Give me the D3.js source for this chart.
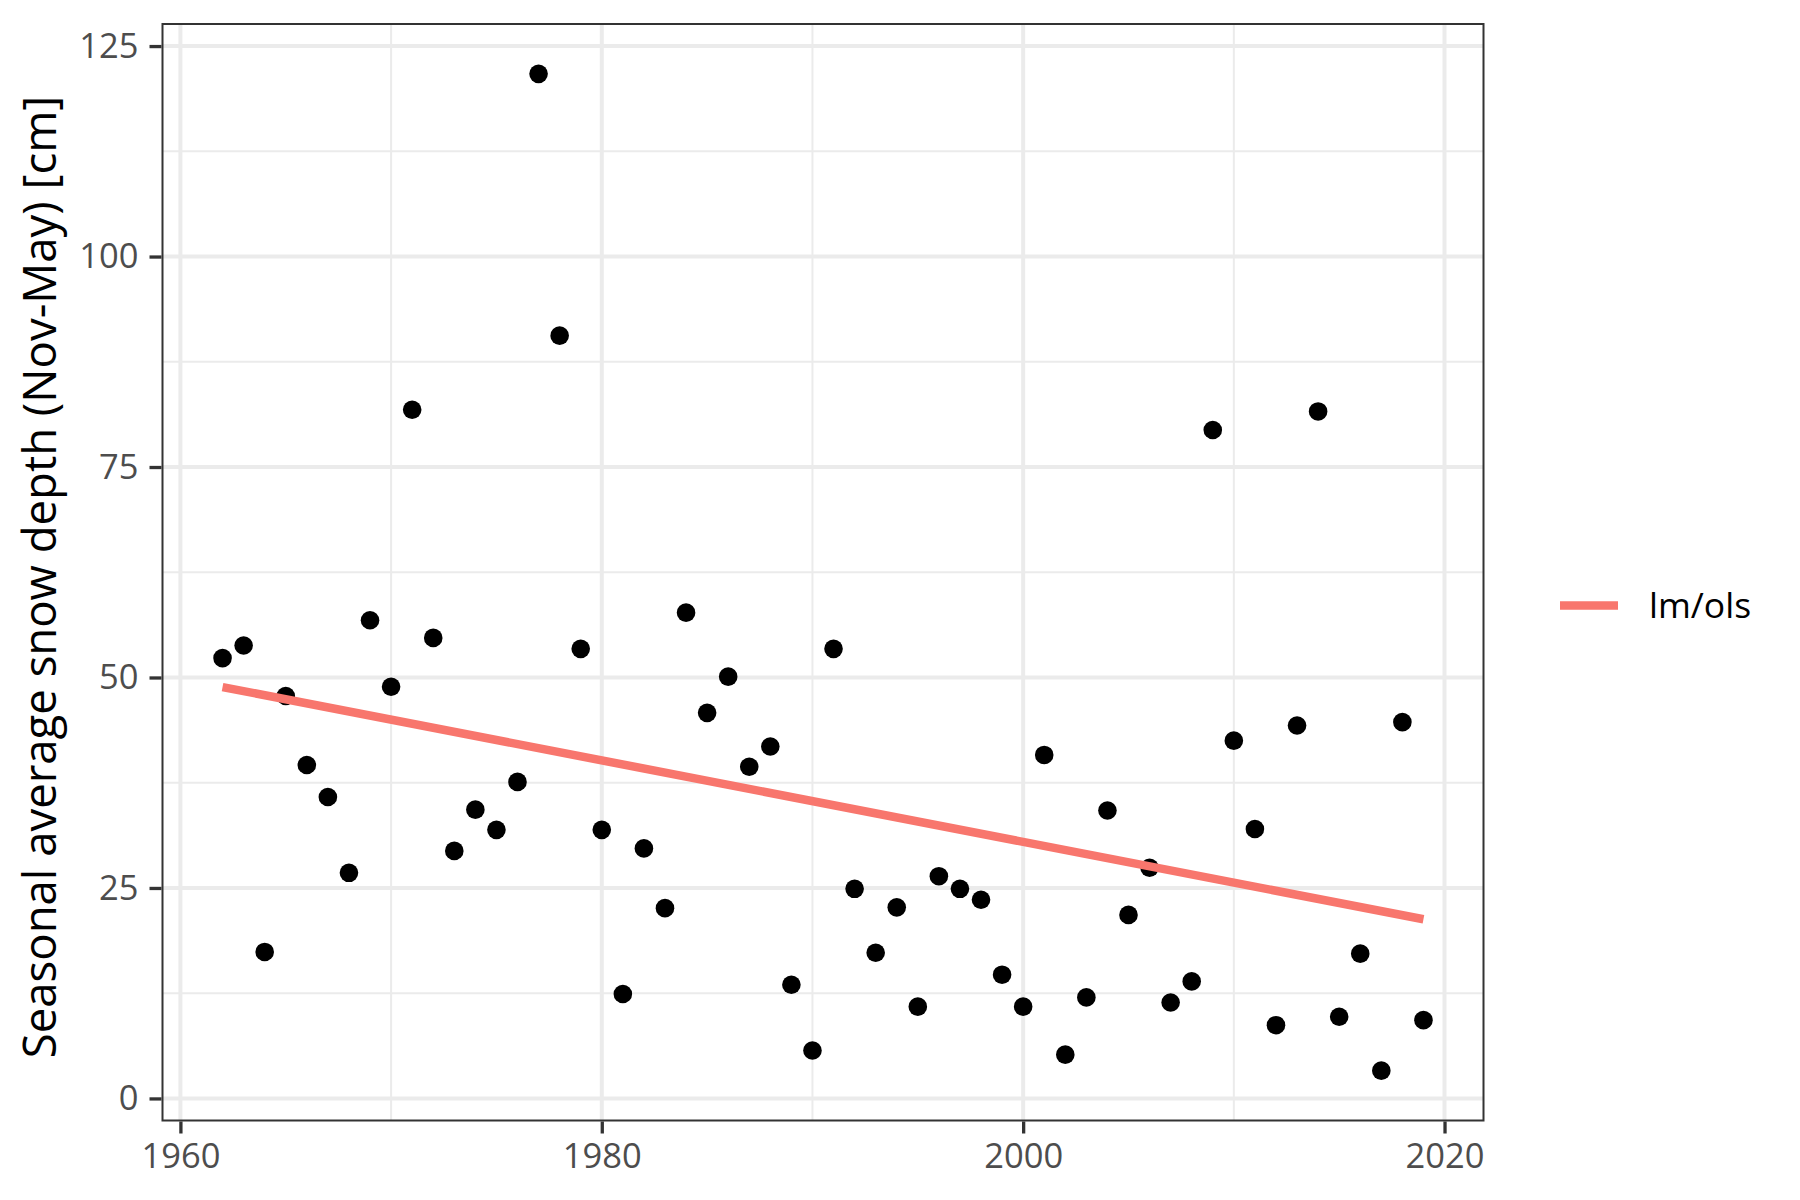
<!DOCTYPE html>
<html>
<head>
<meta charset="utf-8">
<script src="https://cdn.jsdelivr.net/npm/d3@7"></script>
<style>
  html, body { margin: 0; padding: 0; background: #fff; }
  svg { display: block; }
</style>
</head>
<body>
<svg id="chart" width="1800" height="1200"></svg>
<script>
const years = d3.range(1962, 2020);
const snowDepth = [
  52.3, 53.8, 17.4, 47.8, 39.6, 35.8, 26.8, 56.8, 48.9, 81.8,
  54.7, 29.4, 34.3, 31.9, 37.6, 121.7, 90.6, 53.4, 31.9, 12.4,
  29.7, 22.6, 57.7, 45.8, 50.1, 39.4, 41.8, 13.5, 5.7, 53.4,
  24.9, 17.3, 22.7, 10.9, 26.4, 24.9, 23.6, 14.7, 10.9, 40.8,
  5.2, 12.0, 34.2, 21.8, 27.4, 11.4, 13.9, 79.4, 42.5, 32.0,
  8.7, 44.3, 81.6, 9.7, 17.2, 3.3, 44.7, 9.3
];
const xTicks = [1960, 1980, 2000, 2020];
const xMinorTicks = [1970, 1990, 2010];
const yTicks = [0, 25, 50, 75, 100, 125];
const yMinorTicks = [12.5, 37.5, 62.5, 87.5, 112.5];
const yTitle = "Seasonal average snow depth (Nov-May) [cm]";
const legendLabel = "lm/ols";

const data = years.map((y, i) => ({ year: y, depth: snowDepth[i] }));

// OLS fit
const mx = d3.mean(years), my = d3.mean(snowDepth);
const sxy = d3.sum(data, d => (d.year - mx) * (d.depth - my));
const sxx = d3.sum(data, d => (d.year - mx) ** 2);
const slope = sxy / sxx, intercept = my - slope * mx;
const fit = [d3.min(years), d3.max(years)].map(x => ({ year: x, depth: intercept + slope * x }));

const panel = { left: 162.5, right: 1483.5, top: 24, bottom: 1120.5 };
const font = "'Open Sans', 'Noto Sans', sans-serif";

function expand(ext) { const r = ext[1] - ext[0]; return [ext[0] - 0.05 * r, ext[1] + 0.05 * r]; }
const x = d3.scaleLinear().domain(expand(d3.extent(years))).range([panel.left, panel.right]);
const y = d3.scaleLinear().domain(expand(d3.extent(snowDepth))).range([panel.bottom, panel.top]);

const svg = d3.select("#chart");
svg.append("rect").attr("width", 1800).attr("height", 1200).attr("fill", "#fff");

const grid = svg.append("g");
grid.selectAll(".ymin").data(yMinorTicks).join("line")
  .attr("x1", panel.left).attr("x2", panel.right)
  .attr("y1", d => y(d)).attr("y2", d => y(d))
  .attr("stroke", "#EBEBEB").attr("stroke-width", 2);
grid.selectAll(".xmin").data(xMinorTicks).join("line")
  .attr("y1", panel.top).attr("y2", panel.bottom)
  .attr("x1", d => x(d)).attr("x2", d => x(d))
  .attr("stroke", "#EBEBEB").attr("stroke-width", 2);
grid.selectAll(".ymaj").data(yTicks).join("line")
  .attr("x1", panel.left).attr("x2", panel.right)
  .attr("y1", d => y(d)).attr("y2", d => y(d))
  .attr("stroke", "#EBEBEB").attr("stroke-width", 4);
grid.selectAll(".xmaj").data(xTicks).join("line")
  .attr("y1", panel.top).attr("y2", panel.bottom)
  .attr("x1", d => x(d)).attr("x2", d => x(d))
  .attr("stroke", "#EBEBEB").attr("stroke-width", 4);

// points
svg.append("g").selectAll("circle").data(data).join("circle")
  .attr("cx", d => x(d.year)).attr("cy", d => y(d.depth))
  .attr("r", 9.3).attr("fill", "#000");

// fit line
svg.append("path").datum(fit)
  .attr("d", d3.line().x(d => x(d.year)).y(d => y(d.depth)))
  .attr("fill", "none").attr("stroke", "#F8766D").attr("stroke-width", 8.5);

// panel border
svg.append("rect")
  .attr("x", panel.left).attr("y", panel.top)
  .attr("width", panel.right - panel.left).attr("height", panel.bottom - panel.top)
  .attr("fill", "none").attr("stroke", "#333333").attr("stroke-width", 2);

// axes
const xAxis = d3.axisBottom(x).tickValues(xTicks).tickSize(12).tickPadding(10).tickFormat(d3.format("d"));
const gx = svg.append("g").attr("transform", `translate(0,${panel.bottom + 1})`).call(xAxis);
gx.select(".domain").remove();
gx.selectAll(".tick line").attr("stroke", "#333333").attr("stroke-width", 3.3);
gx.selectAll(".tick text").attr("fill", "#4D4D4D").attr("font-family", font).attr("font-size", 34.5);

const yAxis = d3.axisLeft(y).tickValues(yTicks).tickSize(12).tickPadding(11);
const gy = svg.append("g").attr("transform", `translate(${panel.left - 1},0)`).call(yAxis);
gy.select(".domain").remove();
gy.selectAll(".tick line").attr("stroke", "#333333").attr("stroke-width", 3.3);
gy.selectAll(".tick text").attr("fill", "#4D4D4D").attr("font-family", font).attr("font-size", 34.5);

// y title
svg.append("text")
  .attr("transform", `translate(56,577) rotate(-90)`)
  .attr("text-anchor", "middle")
  .attr("font-family", font).attr("font-size", 45.5).attr("fill", "#000")
  .text(yTitle);

// legend
const lg = svg.append("g");
lg.append("line").attr("x1", 1560).attr("x2", 1618).attr("y1", 605.5).attr("y2", 605.5)
  .attr("stroke", "#F8766D").attr("stroke-width", 8.5);
lg.append("text").attr("x", 1649).attr("y", 617.5)
  .attr("font-family", font).attr("font-size", 35.5).attr("fill", "#000")
  .text(legendLabel);
</script>
</body>
</html>
